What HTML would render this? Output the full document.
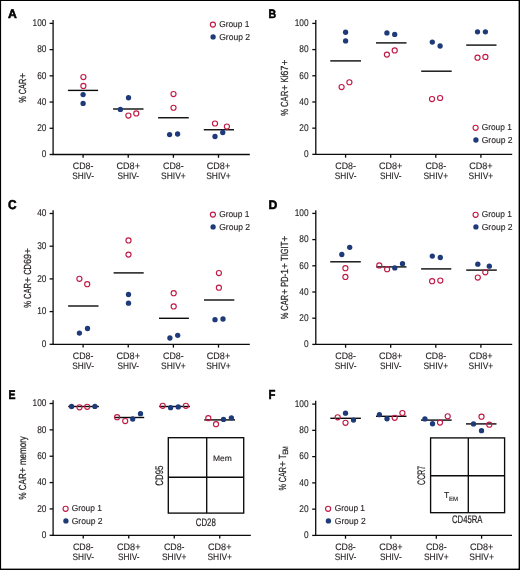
<!DOCTYPE html>
<html><head><meta charset="utf-8"><title>Figure</title>
<style>
html,body{margin:0;padding:0;background:#fff;width:520px;height:570px;overflow:hidden;}
svg{display:block;will-change:transform;}
text{font-family:"Liberation Sans", sans-serif;stroke:#231f20;stroke-width:0.12px;text-rendering:geometricPrecision;}
</style></head>
<body>
<svg width="520" height="570" viewBox="0 0 520 570" font-family='"Liberation Sans", sans-serif' fill="#231f20">
<rect x="0" y="0" width="520" height="570" fill="#ffffff"/>
<text x="8" y="17.95" font-size="12.2" text-anchor="start" font-weight="bold" textLength="8.81" lengthAdjust="spacingAndGlyphs" style="stroke-width:0.55px;fill:#000;stroke:#000">A</text>
<line x1="53.1" y1="20" x2="53.1" y2="154.5" stroke="#0b0b0b" stroke-width="1.3"/>
<line x1="52.45" y1="154.5" x2="249.8" y2="154.5" stroke="#0b0b0b" stroke-width="1.3"/>
<line x1="49.6" y1="154.5" x2="53.1" y2="154.5" stroke="#0b0b0b" stroke-width="1.3"/>
<text x="46.5" y="157.35" font-size="9.8" text-anchor="end" textLength="4.63" lengthAdjust="spacingAndGlyphs">0</text>
<line x1="49.6" y1="128.28" x2="53.1" y2="128.28" stroke="#0b0b0b" stroke-width="1.3"/>
<text x="46.5" y="131.13" font-size="9.8" text-anchor="end" textLength="9.27" lengthAdjust="spacingAndGlyphs">20</text>
<line x1="49.6" y1="102.06" x2="53.1" y2="102.06" stroke="#0b0b0b" stroke-width="1.3"/>
<text x="46.5" y="104.91" font-size="9.8" text-anchor="end" textLength="9.27" lengthAdjust="spacingAndGlyphs">40</text>
<line x1="49.6" y1="75.84" x2="53.1" y2="75.84" stroke="#0b0b0b" stroke-width="1.3"/>
<text x="46.5" y="78.69" font-size="9.8" text-anchor="end" textLength="9.27" lengthAdjust="spacingAndGlyphs">60</text>
<line x1="49.6" y1="49.62" x2="53.1" y2="49.62" stroke="#0b0b0b" stroke-width="1.3"/>
<text x="46.5" y="52.47" font-size="9.8" text-anchor="end" textLength="9.27" lengthAdjust="spacingAndGlyphs">80</text>
<line x1="49.6" y1="23.4" x2="53.1" y2="23.4" stroke="#0b0b0b" stroke-width="1.3"/>
<text x="46.5" y="26.25" font-size="9.8" text-anchor="end" textLength="13.9" lengthAdjust="spacingAndGlyphs">100</text>
<line x1="83.1" y1="154.5" x2="83.1" y2="157.8" stroke="#0b0b0b" stroke-width="1.3"/>
<text x="83.1" y="168.75" font-size="9.4" text-anchor="middle" textLength="20.6" lengthAdjust="spacingAndGlyphs">CD8-</text>
<text x="83.1" y="179.35" font-size="9.4" text-anchor="middle" textLength="21.6" lengthAdjust="spacingAndGlyphs">SHIV-</text>
<line x1="128.25" y1="154.5" x2="128.25" y2="157.8" stroke="#0b0b0b" stroke-width="1.3"/>
<text x="128.25" y="168.75" font-size="9.4" text-anchor="middle" textLength="23.4" lengthAdjust="spacingAndGlyphs">CD8+</text>
<text x="128.25" y="179.35" font-size="9.4" text-anchor="middle" textLength="21.6" lengthAdjust="spacingAndGlyphs">SHIV-</text>
<line x1="173.4" y1="154.5" x2="173.4" y2="157.8" stroke="#0b0b0b" stroke-width="1.3"/>
<text x="173.4" y="168.75" font-size="9.4" text-anchor="middle" textLength="20.6" lengthAdjust="spacingAndGlyphs">CD8-</text>
<text x="173.4" y="179.35" font-size="9.4" text-anchor="middle" textLength="24.6" lengthAdjust="spacingAndGlyphs">SHIV+</text>
<line x1="218.5" y1="154.5" x2="218.5" y2="157.8" stroke="#0b0b0b" stroke-width="1.3"/>
<text x="218.5" y="168.75" font-size="9.4" text-anchor="middle" textLength="23.4" lengthAdjust="spacingAndGlyphs">CD8+</text>
<text x="218.5" y="179.35" font-size="9.4" text-anchor="middle" textLength="24.6" lengthAdjust="spacingAndGlyphs">SHIV+</text>
<text transform="translate(25.6,102.66) rotate(-90)" x="0" y="0" font-size="10.3" style="white-space:pre;stroke-width:0.22px"><tspan textLength="23.85" lengthAdjust="spacingAndGlyphs">% CAR</tspan><tspan>+</tspan></text>
<line x1="67.9" y1="90.4" x2="98.1" y2="90.4" stroke="#0b0b0b" stroke-width="1.4"/>
<line x1="113.1" y1="109" x2="143.5" y2="109" stroke="#0b0b0b" stroke-width="1.4"/>
<line x1="158.1" y1="117.75" x2="188.75" y2="117.75" stroke="#0b0b0b" stroke-width="1.4"/>
<line x1="203.75" y1="129.75" x2="234" y2="129.75" stroke="#0b0b0b" stroke-width="1.4"/>
<circle cx="83.4" cy="77.1" r="2.55" fill="none" stroke="#c21a46" stroke-width="1.15"/>
<circle cx="83.4" cy="85.9" r="2.55" fill="none" stroke="#c21a46" stroke-width="1.15"/>
<circle cx="83.1" cy="94.6" r="2.65" fill="#1e3a78"/>
<circle cx="83.1" cy="103.4" r="2.65" fill="#1e3a78"/>
<circle cx="128.5" cy="97.75" r="2.65" fill="#1e3a78"/>
<circle cx="120.4" cy="109.4" r="2.65" fill="#1e3a78"/>
<circle cx="128.4" cy="115.6" r="2.55" fill="none" stroke="#c21a46" stroke-width="1.15"/>
<circle cx="136.25" cy="113.4" r="2.55" fill="none" stroke="#c21a46" stroke-width="1.15"/>
<circle cx="173.5" cy="94.1" r="2.55" fill="none" stroke="#c21a46" stroke-width="1.15"/>
<circle cx="173.5" cy="107.75" r="2.55" fill="none" stroke="#c21a46" stroke-width="1.15"/>
<circle cx="169.6" cy="134.6" r="2.65" fill="#1e3a78"/>
<circle cx="177.6" cy="134" r="2.65" fill="#1e3a78"/>
<circle cx="215" cy="123.5" r="2.55" fill="none" stroke="#c21a46" stroke-width="1.15"/>
<circle cx="226.9" cy="126.6" r="2.55" fill="none" stroke="#c21a46" stroke-width="1.15"/>
<circle cx="215" cy="136.5" r="2.65" fill="#1e3a78"/>
<circle cx="222.75" cy="132.5" r="2.65" fill="#1e3a78"/>
<circle cx="212.9" cy="24.6" r="2.55" fill="none" stroke="#c21a46" stroke-width="1.15"/>
<circle cx="213.1" cy="36.9" r="2.65" fill="#1e3a78"/>
<text x="219.2" y="26.9" font-size="8.7" textLength="30.2" lengthAdjust="spacingAndGlyphs">Group 1</text>
<text x="219.2" y="39.5" font-size="8.7" textLength="30.9" lengthAdjust="spacingAndGlyphs">Group 2</text>
<text x="268.4" y="18.3" font-size="12.2" text-anchor="start" font-weight="bold" textLength="7.67" lengthAdjust="spacingAndGlyphs" style="stroke-width:0.55px;fill:#000;stroke:#000">B</text>
<line x1="315.8" y1="20" x2="315.8" y2="154.35" stroke="#0b0b0b" stroke-width="1.3"/>
<line x1="315.15" y1="154.35" x2="512.2" y2="154.35" stroke="#0b0b0b" stroke-width="1.3"/>
<line x1="312.3" y1="154.35" x2="315.8" y2="154.35" stroke="#0b0b0b" stroke-width="1.3"/>
<text x="308.6" y="157.2" font-size="9.8" text-anchor="end" textLength="4.63" lengthAdjust="spacingAndGlyphs">0</text>
<line x1="312.3" y1="128.16" x2="315.8" y2="128.16" stroke="#0b0b0b" stroke-width="1.3"/>
<text x="308.6" y="131.01" font-size="9.8" text-anchor="end" textLength="9.27" lengthAdjust="spacingAndGlyphs">20</text>
<line x1="312.3" y1="101.97" x2="315.8" y2="101.97" stroke="#0b0b0b" stroke-width="1.3"/>
<text x="308.6" y="104.82" font-size="9.8" text-anchor="end" textLength="9.27" lengthAdjust="spacingAndGlyphs">40</text>
<line x1="312.3" y1="75.78" x2="315.8" y2="75.78" stroke="#0b0b0b" stroke-width="1.3"/>
<text x="308.6" y="78.63" font-size="9.8" text-anchor="end" textLength="9.27" lengthAdjust="spacingAndGlyphs">60</text>
<line x1="312.3" y1="49.59" x2="315.8" y2="49.59" stroke="#0b0b0b" stroke-width="1.3"/>
<text x="308.6" y="52.44" font-size="9.8" text-anchor="end" textLength="9.27" lengthAdjust="spacingAndGlyphs">80</text>
<line x1="312.3" y1="23.4" x2="315.8" y2="23.4" stroke="#0b0b0b" stroke-width="1.3"/>
<text x="308.6" y="26.25" font-size="9.8" text-anchor="end" textLength="13.9" lengthAdjust="spacingAndGlyphs">100</text>
<line x1="345.6" y1="154.35" x2="345.6" y2="157.65" stroke="#0b0b0b" stroke-width="1.3"/>
<text x="345.6" y="168.75" font-size="9.4" text-anchor="middle" textLength="20.6" lengthAdjust="spacingAndGlyphs">CD8-</text>
<text x="345.6" y="179.35" font-size="9.4" text-anchor="middle" textLength="21.6" lengthAdjust="spacingAndGlyphs">SHIV-</text>
<line x1="390.7" y1="154.35" x2="390.7" y2="157.65" stroke="#0b0b0b" stroke-width="1.3"/>
<text x="390.7" y="168.75" font-size="9.4" text-anchor="middle" textLength="23.4" lengthAdjust="spacingAndGlyphs">CD8+</text>
<text x="390.7" y="179.35" font-size="9.4" text-anchor="middle" textLength="21.6" lengthAdjust="spacingAndGlyphs">SHIV-</text>
<line x1="435.8" y1="154.35" x2="435.8" y2="157.65" stroke="#0b0b0b" stroke-width="1.3"/>
<text x="435.8" y="168.75" font-size="9.4" text-anchor="middle" textLength="20.6" lengthAdjust="spacingAndGlyphs">CD8-</text>
<text x="435.8" y="179.35" font-size="9.4" text-anchor="middle" textLength="24.6" lengthAdjust="spacingAndGlyphs">SHIV+</text>
<line x1="480.9" y1="154.35" x2="480.9" y2="157.65" stroke="#0b0b0b" stroke-width="1.3"/>
<text x="480.9" y="168.75" font-size="9.4" text-anchor="middle" textLength="23.4" lengthAdjust="spacingAndGlyphs">CD8+</text>
<text x="480.9" y="179.35" font-size="9.4" text-anchor="middle" textLength="24.6" lengthAdjust="spacingAndGlyphs">SHIV+</text>
<text transform="translate(288.4,115.87) rotate(-90)" x="0" y="0" font-size="10.3" style="white-space:pre;stroke-width:0.22px"><tspan textLength="25.16" lengthAdjust="spacingAndGlyphs">% CAR</tspan><tspan>+</tspan><tspan textLength="8.95" lengthAdjust="spacingAndGlyphs"> Ki</tspan><tspan textLength="10.24" lengthAdjust="spacingAndGlyphs">67</tspan><tspan>+</tspan></text>
<line x1="330.25" y1="60.9" x2="361" y2="60.9" stroke="#0b0b0b" stroke-width="1.4"/>
<line x1="376" y1="42.9" x2="406.5" y2="42.9" stroke="#0b0b0b" stroke-width="1.4"/>
<line x1="421.2" y1="71.2" x2="451.7" y2="71.2" stroke="#0b0b0b" stroke-width="1.4"/>
<line x1="466.2" y1="45.1" x2="496.5" y2="45.1" stroke="#0b0b0b" stroke-width="1.4"/>
<circle cx="345.6" cy="32.25" r="2.65" fill="#1e3a78"/>
<circle cx="345.6" cy="40.9" r="2.65" fill="#1e3a78"/>
<circle cx="341.6" cy="87.1" r="2.55" fill="none" stroke="#c21a46" stroke-width="1.15"/>
<circle cx="349.4" cy="82.25" r="2.55" fill="none" stroke="#c21a46" stroke-width="1.15"/>
<circle cx="386.9" cy="32.9" r="2.65" fill="#1e3a78"/>
<circle cx="394.7" cy="34.4" r="2.65" fill="#1e3a78"/>
<circle cx="386.9" cy="54.6" r="2.55" fill="none" stroke="#c21a46" stroke-width="1.15"/>
<circle cx="394.7" cy="50.4" r="2.55" fill="none" stroke="#c21a46" stroke-width="1.15"/>
<circle cx="432.3" cy="42.1" r="2.65" fill="#1e3a78"/>
<circle cx="440.1" cy="46" r="2.65" fill="#1e3a78"/>
<circle cx="432" cy="99.1" r="2.55" fill="none" stroke="#c21a46" stroke-width="1.15"/>
<circle cx="440.1" cy="98" r="2.55" fill="none" stroke="#c21a46" stroke-width="1.15"/>
<circle cx="477.5" cy="31.8" r="2.65" fill="#1e3a78"/>
<circle cx="485.4" cy="31.8" r="2.65" fill="#1e3a78"/>
<circle cx="477.5" cy="57.7" r="2.55" fill="none" stroke="#c21a46" stroke-width="1.15"/>
<circle cx="485.4" cy="56.9" r="2.55" fill="none" stroke="#c21a46" stroke-width="1.15"/>
<circle cx="475.6" cy="127.75" r="2.55" fill="none" stroke="#c21a46" stroke-width="1.15"/>
<circle cx="475.9" cy="140" r="2.65" fill="#1e3a78"/>
<text x="481.7" y="130.4" font-size="8.7" textLength="30.2" lengthAdjust="spacingAndGlyphs">Group 1</text>
<text x="481.7" y="142.8" font-size="8.7" textLength="30.9" lengthAdjust="spacingAndGlyphs">Group 2</text>
<text x="8" y="209" font-size="12.8" text-anchor="start" font-weight="bold" textLength="8.6" lengthAdjust="spacingAndGlyphs" style="stroke-width:0.55px;fill:#000;stroke:#000">C</text>
<line x1="53.1" y1="210.2" x2="53.1" y2="344.3" stroke="#0b0b0b" stroke-width="1.3"/>
<line x1="52.45" y1="344.3" x2="249.8" y2="344.3" stroke="#0b0b0b" stroke-width="1.3"/>
<line x1="49.6" y1="344.3" x2="53.1" y2="344.3" stroke="#0b0b0b" stroke-width="1.3"/>
<text x="46.5" y="347.15" font-size="9.8" text-anchor="end" textLength="4.63" lengthAdjust="spacingAndGlyphs">0</text>
<line x1="49.6" y1="311.6" x2="53.1" y2="311.6" stroke="#0b0b0b" stroke-width="1.3"/>
<text x="46.5" y="314.45" font-size="9.8" text-anchor="end" textLength="9.27" lengthAdjust="spacingAndGlyphs">10</text>
<line x1="49.6" y1="278.9" x2="53.1" y2="278.9" stroke="#0b0b0b" stroke-width="1.3"/>
<text x="46.5" y="281.75" font-size="9.8" text-anchor="end" textLength="9.27" lengthAdjust="spacingAndGlyphs">20</text>
<line x1="49.6" y1="246.2" x2="53.1" y2="246.2" stroke="#0b0b0b" stroke-width="1.3"/>
<text x="46.5" y="249.05" font-size="9.8" text-anchor="end" textLength="9.27" lengthAdjust="spacingAndGlyphs">30</text>
<line x1="49.6" y1="213.5" x2="53.1" y2="213.5" stroke="#0b0b0b" stroke-width="1.3"/>
<text x="46.5" y="216.35" font-size="9.8" text-anchor="end" textLength="9.27" lengthAdjust="spacingAndGlyphs">40</text>
<line x1="83.1" y1="344.3" x2="83.1" y2="347.6" stroke="#0b0b0b" stroke-width="1.3"/>
<text x="83.1" y="358.75" font-size="9.4" text-anchor="middle" textLength="20.6" lengthAdjust="spacingAndGlyphs">CD8-</text>
<text x="83.1" y="369.35" font-size="9.4" text-anchor="middle" textLength="21.6" lengthAdjust="spacingAndGlyphs">SHIV-</text>
<line x1="128.25" y1="344.3" x2="128.25" y2="347.6" stroke="#0b0b0b" stroke-width="1.3"/>
<text x="128.25" y="358.75" font-size="9.4" text-anchor="middle" textLength="23.4" lengthAdjust="spacingAndGlyphs">CD8+</text>
<text x="128.25" y="369.35" font-size="9.4" text-anchor="middle" textLength="21.6" lengthAdjust="spacingAndGlyphs">SHIV-</text>
<line x1="173.4" y1="344.3" x2="173.4" y2="347.6" stroke="#0b0b0b" stroke-width="1.3"/>
<text x="173.4" y="358.75" font-size="9.4" text-anchor="middle" textLength="20.6" lengthAdjust="spacingAndGlyphs">CD8-</text>
<text x="173.4" y="369.35" font-size="9.4" text-anchor="middle" textLength="24.6" lengthAdjust="spacingAndGlyphs">SHIV+</text>
<line x1="218.5" y1="344.3" x2="218.5" y2="347.6" stroke="#0b0b0b" stroke-width="1.3"/>
<text x="218.5" y="358.75" font-size="9.4" text-anchor="middle" textLength="23.4" lengthAdjust="spacingAndGlyphs">CD8+</text>
<text x="218.5" y="369.35" font-size="9.4" text-anchor="middle" textLength="24.6" lengthAdjust="spacingAndGlyphs">SHIV+</text>
<text transform="translate(30.7,307.67) rotate(-90)" x="0" y="0" font-size="10.3" style="white-space:pre;stroke-width:0.22px"><tspan textLength="24.71" lengthAdjust="spacingAndGlyphs">% CAR</tspan><tspan>+</tspan><tspan textLength="12.98" lengthAdjust="spacingAndGlyphs"> CD</tspan><tspan textLength="10.06" lengthAdjust="spacingAndGlyphs">69</tspan><tspan>+</tspan></text>
<line x1="68.1" y1="306" x2="98.5" y2="306" stroke="#0b0b0b" stroke-width="1.4"/>
<line x1="113.6" y1="272.9" x2="143.7" y2="272.9" stroke="#0b0b0b" stroke-width="1.4"/>
<line x1="159" y1="318.3" x2="188.9" y2="318.3" stroke="#0b0b0b" stroke-width="1.4"/>
<line x1="204" y1="300" x2="234.3" y2="300" stroke="#0b0b0b" stroke-width="1.4"/>
<circle cx="79.4" cy="278.8" r="2.55" fill="none" stroke="#c21a46" stroke-width="1.15"/>
<circle cx="87.2" cy="284.2" r="2.55" fill="none" stroke="#c21a46" stroke-width="1.15"/>
<circle cx="79.4" cy="333.1" r="2.65" fill="#1e3a78"/>
<circle cx="87.5" cy="328.5" r="2.65" fill="#1e3a78"/>
<circle cx="128.5" cy="240.4" r="2.55" fill="none" stroke="#c21a46" stroke-width="1.15"/>
<circle cx="128.5" cy="254.6" r="2.55" fill="none" stroke="#c21a46" stroke-width="1.15"/>
<circle cx="128.5" cy="294.5" r="2.65" fill="#1e3a78"/>
<circle cx="128.5" cy="303.2" r="2.65" fill="#1e3a78"/>
<circle cx="173.7" cy="293.2" r="2.55" fill="none" stroke="#c21a46" stroke-width="1.15"/>
<circle cx="173.7" cy="306.4" r="2.55" fill="none" stroke="#c21a46" stroke-width="1.15"/>
<circle cx="169.9" cy="338" r="2.65" fill="#1e3a78"/>
<circle cx="177.7" cy="335.3" r="2.65" fill="#1e3a78"/>
<circle cx="218.9" cy="273" r="2.55" fill="none" stroke="#c21a46" stroke-width="1.15"/>
<circle cx="218.9" cy="287.7" r="2.55" fill="none" stroke="#c21a46" stroke-width="1.15"/>
<circle cx="215" cy="319.7" r="2.65" fill="#1e3a78"/>
<circle cx="223" cy="319" r="2.65" fill="#1e3a78"/>
<circle cx="212.9" cy="214.6" r="2.55" fill="none" stroke="#c21a46" stroke-width="1.15"/>
<circle cx="213.1" cy="226.9" r="2.65" fill="#1e3a78"/>
<text x="219.2" y="216.9" font-size="8.7" textLength="30.2" lengthAdjust="spacingAndGlyphs">Group 1</text>
<text x="219.2" y="229.5" font-size="8.7" textLength="30.9" lengthAdjust="spacingAndGlyphs">Group 2</text>
<text x="268.4" y="208.7" font-size="12.2" text-anchor="start" font-weight="bold" textLength="8.81" lengthAdjust="spacingAndGlyphs" style="stroke-width:0.55px;fill:#000;stroke:#000">D</text>
<line x1="315.8" y1="210.2" x2="315.8" y2="344.4" stroke="#0b0b0b" stroke-width="1.3"/>
<line x1="315.15" y1="344.4" x2="512.2" y2="344.4" stroke="#0b0b0b" stroke-width="1.3"/>
<line x1="312.3" y1="344.4" x2="315.8" y2="344.4" stroke="#0b0b0b" stroke-width="1.3"/>
<text x="308.6" y="347.25" font-size="9.8" text-anchor="end" textLength="4.63" lengthAdjust="spacingAndGlyphs">0</text>
<line x1="312.3" y1="318.2" x2="315.8" y2="318.2" stroke="#0b0b0b" stroke-width="1.3"/>
<text x="308.6" y="321.05" font-size="9.8" text-anchor="end" textLength="9.27" lengthAdjust="spacingAndGlyphs">20</text>
<line x1="312.3" y1="292" x2="315.8" y2="292" stroke="#0b0b0b" stroke-width="1.3"/>
<text x="308.6" y="294.85" font-size="9.8" text-anchor="end" textLength="9.27" lengthAdjust="spacingAndGlyphs">40</text>
<line x1="312.3" y1="265.8" x2="315.8" y2="265.8" stroke="#0b0b0b" stroke-width="1.3"/>
<text x="308.6" y="268.65" font-size="9.8" text-anchor="end" textLength="9.27" lengthAdjust="spacingAndGlyphs">60</text>
<line x1="312.3" y1="239.6" x2="315.8" y2="239.6" stroke="#0b0b0b" stroke-width="1.3"/>
<text x="308.6" y="242.45" font-size="9.8" text-anchor="end" textLength="9.27" lengthAdjust="spacingAndGlyphs">80</text>
<line x1="312.3" y1="213.4" x2="315.8" y2="213.4" stroke="#0b0b0b" stroke-width="1.3"/>
<text x="308.6" y="216.25" font-size="9.8" text-anchor="end" textLength="13.9" lengthAdjust="spacingAndGlyphs">100</text>
<line x1="345.6" y1="344.4" x2="345.6" y2="347.7" stroke="#0b0b0b" stroke-width="1.3"/>
<text x="345.6" y="358.75" font-size="9.4" text-anchor="middle" textLength="20.6" lengthAdjust="spacingAndGlyphs">CD8-</text>
<text x="345.6" y="369.35" font-size="9.4" text-anchor="middle" textLength="21.6" lengthAdjust="spacingAndGlyphs">SHIV-</text>
<line x1="390.7" y1="344.4" x2="390.7" y2="347.7" stroke="#0b0b0b" stroke-width="1.3"/>
<text x="390.7" y="358.75" font-size="9.4" text-anchor="middle" textLength="23.4" lengthAdjust="spacingAndGlyphs">CD8+</text>
<text x="390.7" y="369.35" font-size="9.4" text-anchor="middle" textLength="21.6" lengthAdjust="spacingAndGlyphs">SHIV-</text>
<line x1="435.8" y1="344.4" x2="435.8" y2="347.7" stroke="#0b0b0b" stroke-width="1.3"/>
<text x="435.8" y="358.75" font-size="9.4" text-anchor="middle" textLength="20.6" lengthAdjust="spacingAndGlyphs">CD8-</text>
<text x="435.8" y="369.35" font-size="9.4" text-anchor="middle" textLength="24.6" lengthAdjust="spacingAndGlyphs">SHIV+</text>
<line x1="480.9" y1="344.4" x2="480.9" y2="347.7" stroke="#0b0b0b" stroke-width="1.3"/>
<text x="480.9" y="358.75" font-size="9.4" text-anchor="middle" textLength="23.4" lengthAdjust="spacingAndGlyphs">CD8+</text>
<text x="480.9" y="369.35" font-size="9.4" text-anchor="middle" textLength="24.6" lengthAdjust="spacingAndGlyphs">SHIV+</text>
<text transform="translate(288.4,319.37) rotate(-90)" x="0" y="0" font-size="10.3" style="white-space:pre;stroke-width:0.22px"><tspan textLength="24.51" lengthAdjust="spacingAndGlyphs">% CAR</tspan><tspan>+</tspan><tspan textLength="14.95" lengthAdjust="spacingAndGlyphs"> PD-</tspan><tspan textLength="4.99" lengthAdjust="spacingAndGlyphs">1</tspan><tspan>+</tspan><tspan textLength="21.18" lengthAdjust="spacingAndGlyphs"> TIGIT</tspan><tspan>+</tspan></text>
<line x1="330.2" y1="261.8" x2="360.8" y2="261.8" stroke="#0b0b0b" stroke-width="1.4"/>
<line x1="376.25" y1="266.9" x2="406.5" y2="266.9" stroke="#0b0b0b" stroke-width="1.4"/>
<line x1="421.1" y1="268.9" x2="451.3" y2="268.9" stroke="#0b0b0b" stroke-width="1.4"/>
<line x1="466.2" y1="270.1" x2="496.8" y2="270.1" stroke="#0b0b0b" stroke-width="1.4"/>
<circle cx="341.8" cy="254.5" r="2.65" fill="#1e3a78"/>
<circle cx="349.7" cy="247.3" r="2.65" fill="#1e3a78"/>
<circle cx="345.4" cy="268.2" r="2.55" fill="none" stroke="#c21a46" stroke-width="1.15"/>
<circle cx="345.4" cy="276.9" r="2.55" fill="none" stroke="#c21a46" stroke-width="1.15"/>
<circle cx="379.3" cy="265.4" r="2.55" fill="none" stroke="#c21a46" stroke-width="1.15"/>
<circle cx="387.1" cy="269.2" r="2.55" fill="none" stroke="#c21a46" stroke-width="1.15"/>
<circle cx="394.8" cy="267.9" r="2.65" fill="#1e3a78"/>
<circle cx="402.5" cy="263.75" r="2.65" fill="#1e3a78"/>
<circle cx="432.3" cy="256.1" r="2.65" fill="#1e3a78"/>
<circle cx="440.3" cy="257.5" r="2.65" fill="#1e3a78"/>
<circle cx="432.1" cy="281.2" r="2.55" fill="none" stroke="#c21a46" stroke-width="1.15"/>
<circle cx="440.3" cy="280.5" r="2.55" fill="none" stroke="#c21a46" stroke-width="1.15"/>
<circle cx="477.8" cy="264.2" r="2.65" fill="#1e3a78"/>
<circle cx="489.3" cy="266.2" r="2.65" fill="#1e3a78"/>
<circle cx="477.8" cy="277.5" r="2.55" fill="none" stroke="#c21a46" stroke-width="1.15"/>
<circle cx="485.3" cy="272.3" r="2.55" fill="none" stroke="#c21a46" stroke-width="1.15"/>
<circle cx="475.6" cy="214.75" r="2.55" fill="none" stroke="#c21a46" stroke-width="1.15"/>
<circle cx="475.9" cy="226.9" r="2.65" fill="#1e3a78"/>
<text x="481.7" y="217.3" font-size="8.7" textLength="30.2" lengthAdjust="spacingAndGlyphs">Group 1</text>
<text x="481.7" y="229.6" font-size="8.7" textLength="30.9" lengthAdjust="spacingAndGlyphs">Group 2</text>
<text x="8.5" y="398.8" font-size="12.8" text-anchor="start" font-weight="bold" textLength="7.0" lengthAdjust="spacingAndGlyphs" style="stroke-width:0.55px;fill:#000;stroke:#000">E</text>
<line x1="53.1" y1="400.2" x2="53.1" y2="535.3" stroke="#0b0b0b" stroke-width="1.3"/>
<line x1="52.45" y1="535.3" x2="250.8" y2="535.3" stroke="#0b0b0b" stroke-width="1.3"/>
<line x1="49.6" y1="535.3" x2="53.1" y2="535.3" stroke="#0b0b0b" stroke-width="1.3"/>
<text x="46.5" y="538.15" font-size="9.8" text-anchor="end" textLength="4.63" lengthAdjust="spacingAndGlyphs">0</text>
<line x1="49.6" y1="508.94" x2="53.1" y2="508.94" stroke="#0b0b0b" stroke-width="1.3"/>
<text x="46.5" y="511.79" font-size="9.8" text-anchor="end" textLength="9.27" lengthAdjust="spacingAndGlyphs">20</text>
<line x1="49.6" y1="482.58" x2="53.1" y2="482.58" stroke="#0b0b0b" stroke-width="1.3"/>
<text x="46.5" y="485.43" font-size="9.8" text-anchor="end" textLength="9.27" lengthAdjust="spacingAndGlyphs">40</text>
<line x1="49.6" y1="456.22" x2="53.1" y2="456.22" stroke="#0b0b0b" stroke-width="1.3"/>
<text x="46.5" y="459.07" font-size="9.8" text-anchor="end" textLength="9.27" lengthAdjust="spacingAndGlyphs">60</text>
<line x1="49.6" y1="429.86" x2="53.1" y2="429.86" stroke="#0b0b0b" stroke-width="1.3"/>
<text x="46.5" y="432.71" font-size="9.8" text-anchor="end" textLength="9.27" lengthAdjust="spacingAndGlyphs">80</text>
<line x1="49.6" y1="403.5" x2="53.1" y2="403.5" stroke="#0b0b0b" stroke-width="1.3"/>
<text x="46.5" y="406.35" font-size="9.8" text-anchor="end" textLength="13.9" lengthAdjust="spacingAndGlyphs">100</text>
<line x1="83.25" y1="535.3" x2="83.25" y2="538.6" stroke="#0b0b0b" stroke-width="1.3"/>
<text x="83.25" y="549.6" font-size="9.4" text-anchor="middle" textLength="20.6" lengthAdjust="spacingAndGlyphs">CD8-</text>
<text x="83.25" y="560.2" font-size="9.4" text-anchor="middle" textLength="21.6" lengthAdjust="spacingAndGlyphs">SHIV-</text>
<line x1="128.75" y1="535.3" x2="128.75" y2="538.6" stroke="#0b0b0b" stroke-width="1.3"/>
<text x="128.75" y="549.6" font-size="9.4" text-anchor="middle" textLength="23.4" lengthAdjust="spacingAndGlyphs">CD8+</text>
<text x="128.75" y="560.2" font-size="9.4" text-anchor="middle" textLength="21.6" lengthAdjust="spacingAndGlyphs">SHIV-</text>
<line x1="174.25" y1="535.3" x2="174.25" y2="538.6" stroke="#0b0b0b" stroke-width="1.3"/>
<text x="174.25" y="549.6" font-size="9.4" text-anchor="middle" textLength="20.6" lengthAdjust="spacingAndGlyphs">CD8-</text>
<text x="174.25" y="560.2" font-size="9.4" text-anchor="middle" textLength="24.6" lengthAdjust="spacingAndGlyphs">SHIV+</text>
<line x1="219.75" y1="535.3" x2="219.75" y2="538.6" stroke="#0b0b0b" stroke-width="1.3"/>
<text x="219.75" y="549.6" font-size="9.4" text-anchor="middle" textLength="23.4" lengthAdjust="spacingAndGlyphs">CD8+</text>
<text x="219.75" y="560.2" font-size="9.4" text-anchor="middle" textLength="24.6" lengthAdjust="spacingAndGlyphs">SHIV+</text>
<text transform="translate(25.6,499.48) rotate(-90)" x="0" y="0" font-size="10.3" style="white-space:pre;stroke-width:0.22px"><tspan textLength="26.2" lengthAdjust="spacingAndGlyphs">% CAR</tspan><tspan>+</tspan><tspan textLength="31.08" lengthAdjust="spacingAndGlyphs"> memory</tspan></text>
<line x1="68.2" y1="406.5" x2="98.9" y2="406.5" stroke="#0b0b0b" stroke-width="1.4"/>
<line x1="114.2" y1="417.5" x2="144.2" y2="417.5" stroke="#0b0b0b" stroke-width="1.4"/>
<line x1="159.2" y1="406.5" x2="190" y2="406.5" stroke="#0b0b0b" stroke-width="1.4"/>
<line x1="204.2" y1="419.9" x2="235" y2="419.9" stroke="#0b0b0b" stroke-width="1.4"/>
<circle cx="71.6" cy="406.5" r="2.65" fill="#1e3a78"/>
<circle cx="79.5" cy="407.3" r="2.55" fill="none" stroke="#c21a46" stroke-width="1.15"/>
<circle cx="87.2" cy="406.8" r="2.55" fill="none" stroke="#c21a46" stroke-width="1.15"/>
<circle cx="94.9" cy="406.4" r="2.65" fill="#1e3a78"/>
<circle cx="117.1" cy="417.2" r="2.55" fill="none" stroke="#c21a46" stroke-width="1.15"/>
<circle cx="125.2" cy="421" r="2.55" fill="none" stroke="#c21a46" stroke-width="1.15"/>
<circle cx="132.7" cy="419" r="2.65" fill="#1e3a78"/>
<circle cx="140.5" cy="413.7" r="2.65" fill="#1e3a78"/>
<circle cx="162.7" cy="405.8" r="2.55" fill="none" stroke="#c21a46" stroke-width="1.15"/>
<circle cx="170.6" cy="407.7" r="2.65" fill="#1e3a78"/>
<circle cx="178.2" cy="406.9" r="2.65" fill="#1e3a78"/>
<circle cx="185.9" cy="405.8" r="2.55" fill="none" stroke="#c21a46" stroke-width="1.15"/>
<circle cx="208.3" cy="418.2" r="2.55" fill="none" stroke="#c21a46" stroke-width="1.15"/>
<circle cx="216" cy="424.2" r="2.55" fill="none" stroke="#c21a46" stroke-width="1.15"/>
<circle cx="223.5" cy="419.4" r="2.65" fill="#1e3a78"/>
<circle cx="231.4" cy="417.8" r="2.65" fill="#1e3a78"/>
<circle cx="65.6" cy="508.75" r="2.55" fill="none" stroke="#c21a46" stroke-width="1.15"/>
<circle cx="65.9" cy="520.9" r="2.65" fill="#1e3a78"/>
<text x="71.7" y="511.3" font-size="8.7" textLength="30.2" lengthAdjust="spacingAndGlyphs">Group 1</text>
<text x="71.7" y="523.6" font-size="8.7" textLength="30.9" lengthAdjust="spacingAndGlyphs">Group 2</text>
<g stroke="#0b0b0b" stroke-width="1.35" fill="none"><rect x="168.3" y="437.7" width="75.4" height="75.4"/><line x1="206.7" y1="437.7" x2="206.7" y2="513.1"/><line x1="168.3" y1="477.2" x2="243.7" y2="477.2"/></g>
<text x="213" y="460.8" font-size="8.1" text-anchor="start" font-weight="normal" textLength="18.9" lengthAdjust="spacingAndGlyphs">Mem</text>
<text transform="translate(163.2,475.6) rotate(-90)" x="0" y="0" font-size="10.9" text-anchor="middle" textLength="20.2" lengthAdjust="spacingAndGlyphs" style="stroke-width:0.22px">CD95</text>
<text x="195.8" y="525.5" font-size="10.9" textLength="20.0" lengthAdjust="spacingAndGlyphs" style="stroke-width:0.22px">CD28</text>
<text x="268.4" y="398.8" font-size="13.0" text-anchor="start" font-weight="bold" textLength="6.9" lengthAdjust="spacingAndGlyphs" style="stroke-width:0.55px;fill:#000;stroke:#000">F</text>
<line x1="315.7" y1="400.8" x2="315.7" y2="535.4" stroke="#0b0b0b" stroke-width="1.3"/>
<line x1="315.05" y1="535.4" x2="512" y2="535.4" stroke="#0b0b0b" stroke-width="1.3"/>
<line x1="312.2" y1="535.4" x2="315.7" y2="535.4" stroke="#0b0b0b" stroke-width="1.3"/>
<text x="308.6" y="538.25" font-size="9.8" text-anchor="end" textLength="4.63" lengthAdjust="spacingAndGlyphs">0</text>
<line x1="312.2" y1="509.14" x2="315.7" y2="509.14" stroke="#0b0b0b" stroke-width="1.3"/>
<text x="308.6" y="511.99" font-size="9.8" text-anchor="end" textLength="9.27" lengthAdjust="spacingAndGlyphs">20</text>
<line x1="312.2" y1="482.88" x2="315.7" y2="482.88" stroke="#0b0b0b" stroke-width="1.3"/>
<text x="308.6" y="485.73" font-size="9.8" text-anchor="end" textLength="9.27" lengthAdjust="spacingAndGlyphs">40</text>
<line x1="312.2" y1="456.62" x2="315.7" y2="456.62" stroke="#0b0b0b" stroke-width="1.3"/>
<text x="308.6" y="459.47" font-size="9.8" text-anchor="end" textLength="9.27" lengthAdjust="spacingAndGlyphs">60</text>
<line x1="312.2" y1="430.36" x2="315.7" y2="430.36" stroke="#0b0b0b" stroke-width="1.3"/>
<text x="308.6" y="433.21" font-size="9.8" text-anchor="end" textLength="9.27" lengthAdjust="spacingAndGlyphs">80</text>
<line x1="312.2" y1="404.1" x2="315.7" y2="404.1" stroke="#0b0b0b" stroke-width="1.3"/>
<text x="308.6" y="406.95" font-size="9.8" text-anchor="end" textLength="13.9" lengthAdjust="spacingAndGlyphs">100</text>
<line x1="345.5" y1="535.4" x2="345.5" y2="538.7" stroke="#0b0b0b" stroke-width="1.3"/>
<text x="345.5" y="549.6" font-size="9.4" text-anchor="middle" textLength="20.6" lengthAdjust="spacingAndGlyphs">CD8-</text>
<text x="345.5" y="560.2" font-size="9.4" text-anchor="middle" textLength="21.6" lengthAdjust="spacingAndGlyphs">SHIV-</text>
<line x1="390.9" y1="535.4" x2="390.9" y2="538.7" stroke="#0b0b0b" stroke-width="1.3"/>
<text x="390.9" y="549.6" font-size="9.4" text-anchor="middle" textLength="23.4" lengthAdjust="spacingAndGlyphs">CD8+</text>
<text x="390.9" y="560.2" font-size="9.4" text-anchor="middle" textLength="21.6" lengthAdjust="spacingAndGlyphs">SHIV-</text>
<line x1="436.3" y1="535.4" x2="436.3" y2="538.7" stroke="#0b0b0b" stroke-width="1.3"/>
<text x="436.3" y="549.6" font-size="9.4" text-anchor="middle" textLength="20.6" lengthAdjust="spacingAndGlyphs">CD8-</text>
<text x="436.3" y="560.2" font-size="9.4" text-anchor="middle" textLength="24.6" lengthAdjust="spacingAndGlyphs">SHIV+</text>
<line x1="481.6" y1="535.4" x2="481.6" y2="538.7" stroke="#0b0b0b" stroke-width="1.3"/>
<text x="481.6" y="549.6" font-size="9.4" text-anchor="middle" textLength="23.4" lengthAdjust="spacingAndGlyphs">CD8+</text>
<text x="481.6" y="560.2" font-size="9.4" text-anchor="middle" textLength="24.6" lengthAdjust="spacingAndGlyphs">SHIV+</text>
<text transform="translate(285.6,490.56) rotate(-90)" x="0" y="0" font-size="10.3" style="white-space:pre;stroke-width:0.22px"><tspan textLength="23.61" lengthAdjust="spacingAndGlyphs">% CAR</tspan><tspan>+</tspan><tspan textLength="6.4" lengthAdjust="spacingAndGlyphs"> T</tspan><tspan font-size="7.6" dy="2.6" textLength="8.2" lengthAdjust="spacingAndGlyphs">EM</tspan></text>
<line x1="330.3" y1="418.3" x2="360.9" y2="418.3" stroke="#0b0b0b" stroke-width="1.4"/>
<line x1="376" y1="416.3" x2="406.5" y2="416.3" stroke="#0b0b0b" stroke-width="1.4"/>
<line x1="421" y1="420.1" x2="451.7" y2="420.1" stroke="#0b0b0b" stroke-width="1.4"/>
<line x1="466" y1="423.9" x2="496.5" y2="423.9" stroke="#0b0b0b" stroke-width="1.4"/>
<circle cx="337.7" cy="417.3" r="2.55" fill="none" stroke="#c21a46" stroke-width="1.15"/>
<circle cx="345.5" cy="413.2" r="2.65" fill="#1e3a78"/>
<circle cx="345.5" cy="422.8" r="2.55" fill="none" stroke="#c21a46" stroke-width="1.15"/>
<circle cx="353.5" cy="420.1" r="2.65" fill="#1e3a78"/>
<circle cx="379.4" cy="414.7" r="2.65" fill="#1e3a78"/>
<circle cx="387" cy="418.75" r="2.65" fill="#1e3a78"/>
<circle cx="394.7" cy="417.8" r="2.55" fill="none" stroke="#c21a46" stroke-width="1.15"/>
<circle cx="402.4" cy="413" r="2.55" fill="none" stroke="#c21a46" stroke-width="1.15"/>
<circle cx="424.9" cy="418.9" r="2.65" fill="#1e3a78"/>
<circle cx="432.5" cy="423.75" r="2.65" fill="#1e3a78"/>
<circle cx="440" cy="422.6" r="2.55" fill="none" stroke="#c21a46" stroke-width="1.15"/>
<circle cx="447.7" cy="416.25" r="2.55" fill="none" stroke="#c21a46" stroke-width="1.15"/>
<circle cx="473.5" cy="423.9" r="2.65" fill="#1e3a78"/>
<circle cx="481.5" cy="416.7" r="2.55" fill="none" stroke="#c21a46" stroke-width="1.15"/>
<circle cx="481.5" cy="430.7" r="2.65" fill="#1e3a78"/>
<circle cx="489.3" cy="424.7" r="2.55" fill="none" stroke="#c21a46" stroke-width="1.15"/>
<circle cx="328.1" cy="508.75" r="2.55" fill="none" stroke="#c21a46" stroke-width="1.15"/>
<circle cx="328.4" cy="520.9" r="2.65" fill="#1e3a78"/>
<text x="334.8" y="511.3" font-size="8.7" textLength="30.2" lengthAdjust="spacingAndGlyphs">Group 1</text>
<text x="334.8" y="523.6" font-size="8.7" textLength="30.9" lengthAdjust="spacingAndGlyphs">Group 2</text>
<g stroke="#0b0b0b" stroke-width="1.35" fill="none"><rect x="430.6" y="437.9" width="74.0" height="74.8"/><line x1="468.3" y1="437.9" x2="468.3" y2="512.7"/><line x1="430.6" y1="475.7" x2="504.6" y2="475.7"/></g>
<text transform="translate(425.4,475.4) rotate(-90)" x="0" y="0" font-size="10.9" text-anchor="middle" textLength="19" lengthAdjust="spacingAndGlyphs" style="stroke-width:0.22px">CCR7</text>
<text x="444" y="497.9" font-size="8.6" text-anchor="start" font-weight="normal" >T</text>
<text x="449" y="500.8" font-size="6.1" text-anchor="start" font-weight="normal" >EM</text>
<text x="452.0" y="523.3" font-size="10.9" textLength="30.5" lengthAdjust="spacingAndGlyphs" style="stroke-width:0.22px">CD45RA</text>
<rect x="0" y="0" width="520" height="1" fill="#000"/>
<rect x="0" y="0" width="1.1" height="570" fill="#000"/>
<rect x="518.6" y="0" width="1.4" height="570" fill="#000"/>
<rect x="0" y="568.6" width="520" height="1.4" fill="#000"/>
</svg>
</body></html>
